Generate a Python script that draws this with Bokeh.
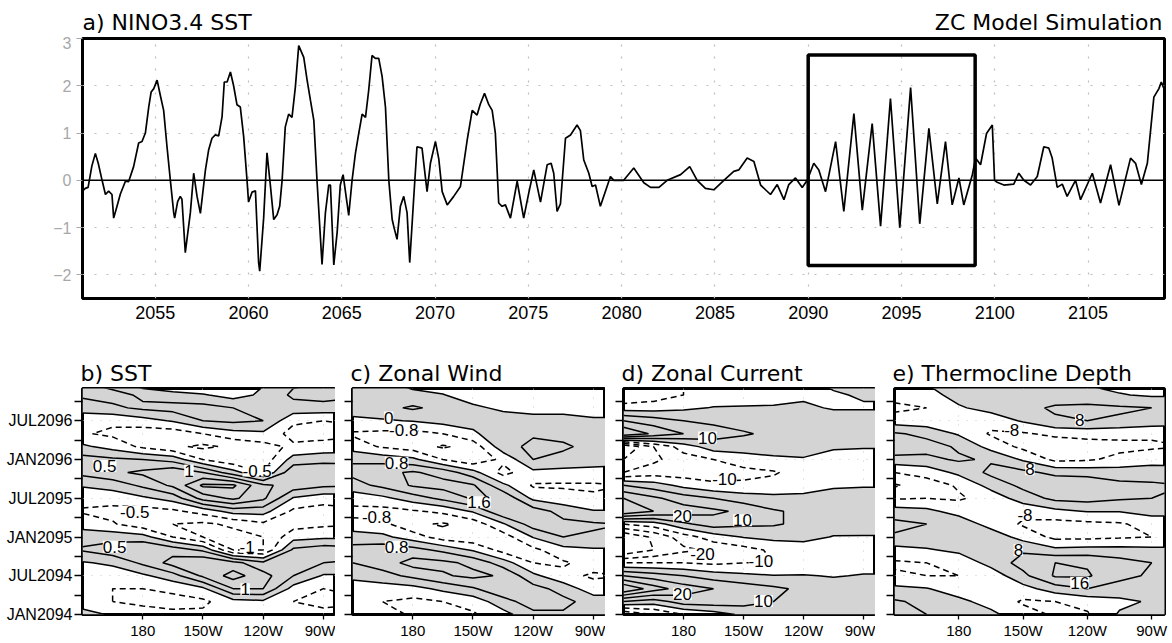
import numpy as np
from bokeh.plotting import figure
from bokeh.layouts import column, row
from bokeh.models import Range1d, FixedTicker, Span, LabelSet, ColumnDataSource
from bokeh.core.properties import value
from bokeh.embed import file_html
from bokeh.resources import INLINE

# ---------------- data: a) NINO3.4 SST time series ----------------
years = [2051.07, 2051.25, 2051.4, 2051.6, 2051.79, 2051.95, 2052.15, 2052.33, 2052.5, 2052.68,
         2052.77, 2052.95, 2053.13, 2053.4, 2053.57, 2053.84, 2054.11, 2054.29, 2054.47, 2054.65,
         2054.78, 2054.92, 2055.1, 2055.27, 2055.45, 2055.63, 2055.81, 2055.99, 2056.04, 2056.2,
         2056.34, 2056.43, 2056.61, 2056.88, 2057.06, 2057.24, 2057.42, 2057.69, 2057.86, 2058.04,
         2058.22, 2058.4, 2058.58, 2058.7, 2058.85, 2059.03, 2059.2, 2059.38, 2059.56, 2059.74,
         2059.92, 2060.0, 2060.19, 2060.37, 2060.54, 2060.6, 2060.81, 2060.99, 2061.17, 2061.35,
         2061.53, 2061.67, 2061.8, 2061.97, 2062.15, 2062.33, 2062.51, 2062.69, 2062.96, 2063.14,
         2063.32, 2063.5, 2063.67, 2063.94, 2064.12, 2064.3, 2064.39, 2064.57, 2064.75, 2064.92,
         2065.07, 2065.28, 2065.37, 2065.55, 2065.73, 2065.91, 2066.09, 2066.27, 2066.44, 2066.62,
         2066.8, 2066.98, 2067.16, 2067.34, 2067.52, 2067.7, 2067.8, 2067.96, 2068.14, 2068.32,
         2068.5, 2068.64, 2068.85, 2069.03, 2069.3, 2069.57, 2069.75, 2070.02, 2070.2, 2070.38,
         2070.65, 2071.0, 2071.36, 2071.72, 2071.99, 2072.25, 2072.43, 2072.65, 2072.88, 2073.06,
         2073.23, 2073.41, 2073.59, 2073.77, 2074.04, 2074.4, 2074.75, 2075.02, 2075.29, 2075.65,
         2076.01, 2076.22, 2076.36, 2076.54, 2076.72, 2076.99, 2077.26, 2077.61, 2077.79, 2077.97,
         2078.24, 2078.42, 2078.6, 2078.86, 2079.4, 2079.58, 2080.11, 2080.65, 2081.19, 2081.55,
         2082.0, 2082.44, 2083.16, 2083.65, 2084.05, 2084.49, 2084.94, 2085.48, 2086.01, 2086.28,
         2086.73, 2087.09, 2087.45, 2087.98, 2088.34, 2088.7, 2088.96, 2089.32, 2089.68, 2089.95,
         2090.3, 2090.57, 2090.93, 2091.47, 2091.91, 2092.45, 2092.9, 2093.43, 2093.88, 2094.41,
         2094.91, 2095.49, 2095.98, 2096.47, 2096.92, 2097.36, 2097.72, 2098.08, 2098.34, 2098.8,
         2098.97, 2099.24, 2099.56, 2099.87, 2099.99, 2100.13, 2100.49, 2101.02, 2101.29, 2101.56,
         2101.92, 2102.28, 2102.63, 2102.9, 2103.08, 2103.35, 2103.62, 2103.88, 2104.33, 2104.6,
         2105.23, 2105.67, 2106.21, 2106.66, 2107.28, 2107.55, 2107.86, 2108.18, 2108.53, 2108.8,
         2108.93, 2109.07]
nino34 = [-0.24, -0.17, -0.15, 0.3, 0.57, 0.35, 0.0, -0.3, -0.23, -0.3,
          -0.8, -0.55, -0.29, -0.02, -0.03, 0.29, 0.79, 0.82, 1.0, 1.55,
          1.87, 1.94, 2.12, 1.8, 1.48, 0.71, 0.0, -0.69, -0.8, -0.45,
          -0.34, -0.4, -1.53, -0.69, 0.15, -0.34, -0.7, 0.22, 0.64, 0.89,
          0.96, 0.94, 1.34, 2.08, 2.08, 2.29, 2.0, 1.6, 1.55, 0.92,
          0.0, -0.46, -0.25, -0.22, -1.74, -1.92, -0.8, 0.58, -0.1, -0.83,
          -0.73, -0.55, 0.0, 1.13, 1.4, 1.33, 1.97, 2.85, 2.6, 2.12,
          1.69, 1.27, 0.0, -1.78, -0.69, -0.1, -0.1, -1.79, -1.1, -0.1,
          0.12, -0.48, -0.74, 0.0, 0.57, 1.0, 1.4, 1.33, 1.9, 2.64,
          2.58, 2.58, 2.2, 1.55, 0.0, -0.83, -1.0, -1.25, -0.55, -0.34,
          -0.69, -1.74, -0.4, 0.71, 0.68, -0.24, 0.36, 0.82, 0.45, -0.24,
          -0.52, -0.34, -0.13, 0.85, 1.48, 1.38, 1.62, 1.84, 1.6, 1.48,
          1.0, -0.48, -0.55, -0.52, -0.8, -0.02, -0.8, -0.27, 0.22, -0.46,
          0.33, 0.36, 0.15, -0.66, -0.5, 0.89, 0.96, 1.17, 1.05, 0.43,
          0.15, -0.13, -0.1, -0.55, 0.08, 0.0, 0.0, 0.26, -0.05, -0.15,
          -0.15, 0.0, 0.12, 0.29, 0.0, -0.17, -0.2, 0.0, 0.19, 0.22,
          0.47, 0.4, -0.1, -0.3, -0.09, -0.41, -0.09, 0.05, -0.15, 0.0,
          0.36, 0.22, -0.24, 0.82, -0.66, 1.41, -0.63, 1.2, -0.97, 1.73,
          -1.0, 1.96, -0.92, 1.1, -0.5, 0.82, -0.52, 0.05, -0.52, 0.12,
          0.47, 0.33, 0.99, 1.17, 0.0, -0.04, -0.1, -0.08, 0.15, 0.0,
          -0.1, 0.08, 0.71, 0.68, 0.47, -0.15, -0.08, -0.34, 0.0, -0.41,
          0.15, -0.48, 0.33, -0.53, 0.47, 0.36, -0.09, 0.36, 1.76, 1.94,
          2.08, 1.94]
year_ticks = [2055, 2060, 2065, 2070, 2075, 2080, 2085, 2090, 2095, 2100, 2105]
value_ticks = [-2, -1, 0, 1, 2, 3]
box_years = [2090.0, 2098.95]
box_vals = [-1.8, 2.65]

# ---------------- data: Hovmoller panels (one list per longitude, values by month) ----------------
lons = [150, 165, 180, 195, 210, 225, 240, 255, 270, 285]
months = [0, 2, 4, 6, 8, 10, 12, 14, 16, 18, 20, 22, 24, 26, 28, 30, 32, 34, 36]
month_ticks = [0, 3, 6, 9, 12, 15, 18, 21, 24, 27, 30, 33]
month_labels = {0: "JAN2094", 6: "JUL2094", 12: "JAN2095", 18: "JUL2095", 24: "JAN2096", 30: "JUL2096"}
lon_ticks = [180, 210, 240, 270]
lon_labels = {180: "180", 210: "150W", 240: "120W", 270: "90W"}

sst = [
    [0.15, -0.2, -0.35, -0.3, -0.05, 0.55, 0.35, -0.25, -0.55, -0.35, 0.05, 0.65, 0.7, 0.1, -0.45, -0.3, 0.2, 0.6, 0.5],
    [-0.05, -0.5, -0.5, -0.3, 0.1, 0.8, 0.3, -0.45, -0.65, -0.3, 0.2, 0.9, 0.6, -0.2, -0.6, -0.4, 0.4, 0.7, 0.2],
    [-0.3, -0.6, -0.5, -0.1, 0.6, 1.0, 0.2, -0.8, -0.7, -0.1, 0.6, 1.1, 0.5, -0.6, -0.8, -0.2, 0.6, 0.4, -0.4],
    [-0.4, -0.65, -0.4, 0.3, 1.2, 0.8, -0.5, -1.0, -0.6, 0.2, 1.1, 1.4, 0.3, -0.9, -0.8, 0.05, 0.7, 0.2, -0.6],
    [-0.4, -0.6, -0.1, 1.1, 1.5, 0.4, -1.0, -1.1, -0.3, 1.2, 2.1, 1.0, -0.5, -1.1, -0.5, 0.5, 0.7, 0.05, -0.6],
    [-0.3, -0.2, 1.0, 1.7, 1.2, -1.0, -1.2, -0.9, 0.2, 1.6, 2.1, 0.2, -0.9, -0.9, -0.2, 0.6, 0.5, -0.2, -0.5],
    [-0.4, -0.1, 1.0, 1.2, 0.6, -1.0, -1.0, -0.6, 0.2, 1.1, 1.1, -0.5, -0.8, -0.7, -0.1, 0.5, 0.4, 0.1, -0.05],
    [-0.3, -0.5, -0.2, 0.5, 0.8, 0.6, -0.2, -0.7, -0.6, -0.05, 0.8, 0.9, 0.2, -0.4, -0.7, -0.4, 0.3, 0.6, 0.4],
    [-0.4, -0.6, -0.5, -0.05, 0.5, 0.8, -0.1, -0.6, -0.7, -0.3, 0.6, 1.0, 0.3, -0.3, -0.7, -0.5, 0.3, 0.7, 0.5],
    [-0.35, -0.55, -0.45, -0.05, 0.45, 0.7, -0.1, -0.55, -0.6, -0.25, 0.55, 0.9, 0.3, -0.25, -0.6, -0.45, 0.25, 0.6, 0.45],
]
wind = [
    [-0.3, -0.6, -0.4, 0.2, 0.8, 1.0, 0.5, -0.6, -1.0, -0.5, 0.5, 1.0, 0.7, -0.4, -0.9, -0.2, 0.4, 0.5, 0.3],
    [-0.5, -0.8, -0.4, 0.5, 1.2, 1.3, 0.2, -0.6, -1.1, -0.2, 1.0, 1.4, 0.5, -0.9, -1.0, -0.1, 0.6, 0.6, 0.1],
    [-0.9, -1.0, -0.3, 1.0, 1.9, 1.1, -0.4, -1.4, -0.9, 0.4, 1.7, 1.7, 0.2, -1.2, -1.1, 0.05, 0.9, 0.3, -0.4],
    [-1.0, -0.8, 0.2, 1.5, 1.8, 0.6, -1.2, -1.7, -0.6, 1.0, 1.9, 1.3, -0.8, -1.7, -0.8, 0.3, 0.6, 0.05, -0.6],
    [-0.9, -0.5, 0.7, 1.8, 1.4, -0.1, -1.4, -1.3, 0.1, 1.7, 1.7, 0.3, -1.4, -1.3, -0.2, 0.4, 0.2, -0.5, -0.8],
    [-0.3, 0.5, 1.4, 1.5, 0.4, -1.1, -1.2, -0.1, 1.5, 1.5, 0.2, -1.1, -0.6, 0.5, 0.8, 0.5, -0.2, -0.6, -0.5],
    [0.6, 1.2, 1.1, 0.2, -0.8, -1.0, 0.05, 1.2, 1.2, -0.2, -0.9, -0.2, 0.8, 1.0, 0.7, 0.2, -0.2, -0.4, -0.4],
    [0.7, 1.0, 0.5, -0.6, -0.9, -0.3, 0.8, 1.0, 0.5, -0.5, -0.9, -0.3, 0.6, 0.9, 0.6, 0.2, -0.2, -0.4, -0.3],
    [0.8, 0.5, -0.5, -0.9, -0.5, -0.1, 0.7, 0.9, 0.05, -0.7, -0.9, -0.3, 0.4, 0.6, 0.5, 0.1, -0.3, -0.4, -0.3],
    [0.7, 0.4, -0.4, -0.8, -0.5, -0.1, 0.6, 0.8, 0.05, -0.6, -0.8, -0.3, 0.3, 0.5, 0.4, 0.1, -0.3, -0.4, -0.3],
]
current = [
    [-30, 10, 50, 20, -10, -40, -40, -10, 40, 30, 10, -20, -30, -40, 40, 20, -5, -20, -20],
    [-20, 5, 35, 15, -10, -30, -28, -5, 30, 22, 5, -15, -22, -20, 28, 15, -5, -15, -15],
    [-10, 15, 25, 10, -10, -22, -15, 8, 25, 15, -3, -15, -15, -5, 20, 10, -2, -10, -10],
    [-5, 16, 20, 5, -12, -18, -5, 15, 22, 10, -8, -15, -10, 5, 14, 8, 0.5, -5, -5],
    [2, 14, 16, 2, -10, -14, 0.5, 12, 18, 5, -8, -13, -5, 5, 11, 6, 0.5, -3, -3],
    [4, 10, 12, 0.5, -10, -8, 3, 11, 11, 3, -7, -11, -2, 5, 8, 5, 0.5, -2, -2],
    [5, 8, 8, 0.5, -6, -5, 3, 8, 8, 3, -5, -6, -1, 5, 6, 5, 1, -1, -1],
    [5, 6, 4, -0.5, -4, -4, -0.5, 5, 6, 3, -1, -4, -3, 1, 5, 3, -0.5, -0.5, 1],
    [4, 5, 4, 0.5, -3, -3, -0.5, 4, 5, 3, -0.5, -3, -3, 0.5, 4, 3, -0.5, 0.5, 2],
    [4, 5, 4, 0.5, -3, -3, -0.5, 4, 5, 3, -0.5, -3, -3, 0.5, 4, 3, -0.5, 0.5, 2],
]
depth = [
    [9, 9, 2, -7, -9, -3, 7, 10, 4, -9, -17, -8, 5, 14, 9, -4, -10, -5, -2],
    [8, 6, 0.5, -8, -8, -1, 7, 8, 2, -8, -12, -5, 6, 11, 6, -5, -8, -3, 0.5],
    [6, 2, -4, -8, -6, 2, 7, 5, -3, -9, -7, 2, 9, 7, -1, -6, -1, 3, 3],
    [2, -3, -8, -5, 3, 8, 5, -3, -8, -5, 3, 10, 7, -3, -9, -5, 3, 5, 2],
    [-5, -9, -3, 6, 11, 7, -3, -9, -6, 4, 10, 10, -1, -10, -9, 1, 6, 4, 1],
    [-9, -8, 4, 17, 16, 2, -10, -11, -2, 10, 14, 6, -10, -14, -6, 7, 9, 4, 0.5],
    [-9, -5, 8, 17, 15, 3, -10, -10, 0.5, 11, 14, 5, -9, -12, -5, 8, 10, 3, -1],
    [1, -2, 5, 10, 11, 3, -9, -9, 0.5, 9, 10, 4, -6, -10, -6, 7, 9, 0.5, -3],
    [3, 1, 3, 7, 8, 2, -8, -5, 3, 8, 9, 5, -4, -9, -7, 5, 8, -1, -3],
    [3, 1, 3, 6, 7, 2, -7, -5, 3, 7, 8, 4, -4, -8, -6, 4, 7, -1, -3],
]

sst_labels = dict(x=[166, 161, 203, 237, 176, 232, 231], y=[10.5, 23.0, 22.3, 22.3, 15.9, 10.5, 3.9],
                  text=["0.5", "0.5", "1", "-0.5", "-0.5", "-1", "1"])
wind_labels = dict(x=[168, 175.5, 172, 213, 162, 172], y=[30.5, 28.6, 23.5, 17.4, 15.1, 10.5],
                   text=["0", "-0.8", "0.8", "1.6", "-0.8", "0.8"])
current_labels = dict(x=[192, 200.5, 179.5, 209.5, 189.5, 218.7, 179.5, 220], y=[27.4, 21.0, 15.3, 14.6, 9.3, 8.25, 3.2, 2.1],
                      text=["10", "-10", "20", "10", "-20", "-10", "20", "10"])
depth_labels = dict(x=[236.4, 204.7, 213.2, 210.9, 207.8, 236.4], y=[30.1, 28.6, 22.5, 15.4, 10.0, 4.9],
                    text=["8", "-8", "8", "-8", "8", "16"])

# ---------------- styling ----------------
TICK_FONT = "Liberation Sans"
TITLE_FONT = "DejaVu Sans"
LABEL_FONT = "Liberation Sans"
SHADE = "#d4d4d4"
PAGE_W = 1168

# ---------------- title strip for panel a (frame aligned with the panel below) ----------------
strip = figure(width=PAGE_W, height=36, x_range=Range1d(82, 1164), y_range=Range1d(0, 36),
               x_axis_type=None, y_axis_type=None, output_backend="svg", toolbar_location=None,
               min_border_left=82, min_border_right=4, min_border_top=0, min_border_bottom=0)
strip.outline_line_color = None
strip.grid.visible = False
strip.text(x=[82], y=[2], text=["a) NINO3.4 SST"], text_align="left", text_baseline="bottom",
           text_font=value(TITLE_FONT), text_font_size="22px", text_color="black")
strip.text(x=[1162], y=[2], text=["ZC Model Simulation"], text_align="right", text_baseline="bottom",
           text_font=value(TITLE_FONT), text_font_size="22px", text_color="black")

# ---------------- top panel ----------------
top = figure(width=PAGE_W, height=302, x_range=Range1d(2051.1, 2109.1), y_range=Range1d(-2.5, 3.0),
             output_backend="svg", toolbar_location=None,
             min_border_left=82, min_border_right=4, min_border_top=2, min_border_bottom=40)
top.outline_line_color = "black"
top.outline_line_width = 3
top.xgrid.ticker = FixedTicker(ticks=year_ticks)
top.ygrid.ticker = FixedTicker(ticks=[-2, -1, 1, 2])
top.grid.grid_line_color = "#bdbdbd"
top.grid.grid_line_dash = "2 10"
top.grid.grid_line_width = 1.2
top.add_layout(Span(location=0, dimension="width", line_color="black", line_width=1.4))
top.line(years, nino34, line_color="black", line_width=1.7)
top.quad(left=[box_years[0]], right=[box_years[1]], bottom=[box_vals[0]], top=[box_vals[1]],
         fill_color=None, line_color="black", line_width=3.5)
top.xaxis.ticker = FixedTicker(ticks=year_ticks)
top.xaxis.major_tick_line_color = None
top.xaxis.major_tick_out = 0
top.xaxis.major_tick_in = 0
top.xaxis.major_label_standoff = 7
top.xaxis.major_label_text_font = TICK_FONT
top.xaxis.major_label_text_font_size = "18px"
top.xaxis.major_label_text_color = "black"
top.yaxis.ticker = FixedTicker(ticks=value_ticks)
top.yaxis.major_label_text_color = "#a8a8a8"
top.yaxis.major_tick_line_color = "#a8a8a8"
top.yaxis.major_tick_out = 6
top.yaxis.major_tick_in = 0
top.yaxis.major_label_standoff = 5
top.yaxis.major_label_text_font = TICK_FONT
top.yaxis.major_label_text_font_size = "16px"
for ax in top.axis:
    ax.axis_line_color = None
    ax.minor_tick_line_color = None


def hovmoller(cols, step, nlev, labels, title, left_border, frame_w, right_border, show_labels):
    p = figure(width=left_border + frame_w + right_border, height=303,
               x_range=Range1d(150, 276), y_range=Range1d(0, 35),
               output_backend="svg", toolbar_location=None, title=title,
               min_border_left=left_border, min_border_right=right_border,
               min_border_top=50, min_border_bottom=26)
    p.title.text_font = TITLE_FONT
    p.title.text_font_size = "22px"
    p.title.text_font_style = "normal"
    p.title.text_color = "black"
    p.title.standoff = 6
    p.title.offset = -2
    z = np.array(cols, dtype=float).T
    pos = [step * i for i in range(0, nlev + 1)]
    neg = [-step * i for i in range(nlev, 0, -1)]
    p.xgrid.ticker = FixedTicker(ticks=lon_ticks)
    p.ygrid.ticker = FixedTicker(ticks=[6, 12, 18, 24, 30])
    p.grid.grid_line_color = "#c8c8c8"
    p.grid.grid_line_dash = "1 8"
    p.contour(lons, months, z, levels=[0.0, 1.0e4], fill_color=SHADE, line_color=None)
    p.contour(lons, months, z, levels=pos, line_color="black", line_width=1.5)
    p.contour(lons, months, z, levels=neg, line_color="black", line_width=1.5, line_dash="6 4")
    src = ColumnDataSource(labels)
    p.add_layout(LabelSet(x="x", y="y", text="text", source=src, text_align="center",
                          text_baseline="middle", text_font=value(LABEL_FONT), text_font_size="17px",
                          text_color="black", background_fill_color="white"))
    p.outline_line_color = "black"
    p.outline_line_width = 3
    p.xaxis.ticker = FixedTicker(ticks=lon_ticks)
    p.xaxis.major_label_overrides = lon_labels
    p.xaxis.major_tick_line_color = "black"
    p.xaxis.major_tick_line_width = 1.3
    p.xaxis.major_tick_out = 5
    p.xaxis.major_tick_in = 0
    p.xaxis.major_label_standoff = 2
    p.xaxis.major_label_text_font = TICK_FONT
    p.xaxis.major_label_text_font_size = "15px"
    p.yaxis.ticker = FixedTicker(ticks=month_ticks)
    if show_labels:
        p.yaxis.major_label_overrides = {m: month_labels.get(m, "") for m in month_ticks}
    else:
        p.yaxis.major_label_overrides = {m: "" for m in month_ticks}
    p.yaxis.major_tick_out = 8
    p.yaxis.major_tick_in = 0
    p.yaxis.major_tick_line_width = 1.3
    p.yaxis.major_label_standoff = 2
    p.yaxis.major_label_text_font = TICK_FONT
    p.yaxis.major_label_text_font_size = "16px"
    for ax in p.axis:
        ax.axis_line_color = None
        ax.minor_tick_line_color = None
        ax.major_label_text_color = "black"
    return p


pb = hovmoller(sst, 0.5, 6, sst_labels, "b) SST", 82, 253, 0, True)
pc = hovmoller(wind, 0.8, 4, wind_labels, "c) Zonal Wind", 17, 253, 0, False)
pd = hovmoller(current, 10.0, 6, current_labels, "d) Zonal Current", 18, 252, 0, False)
pe = hovmoller(depth, 8.0, 4, depth_labels, "e) Thermocline Depth", 19, 270, 4, False)

layout = column(strip, top, row(pb, pc, pd, pe, spacing=0), spacing=0)
open("out.html", "w").write(file_html(layout, INLINE))
